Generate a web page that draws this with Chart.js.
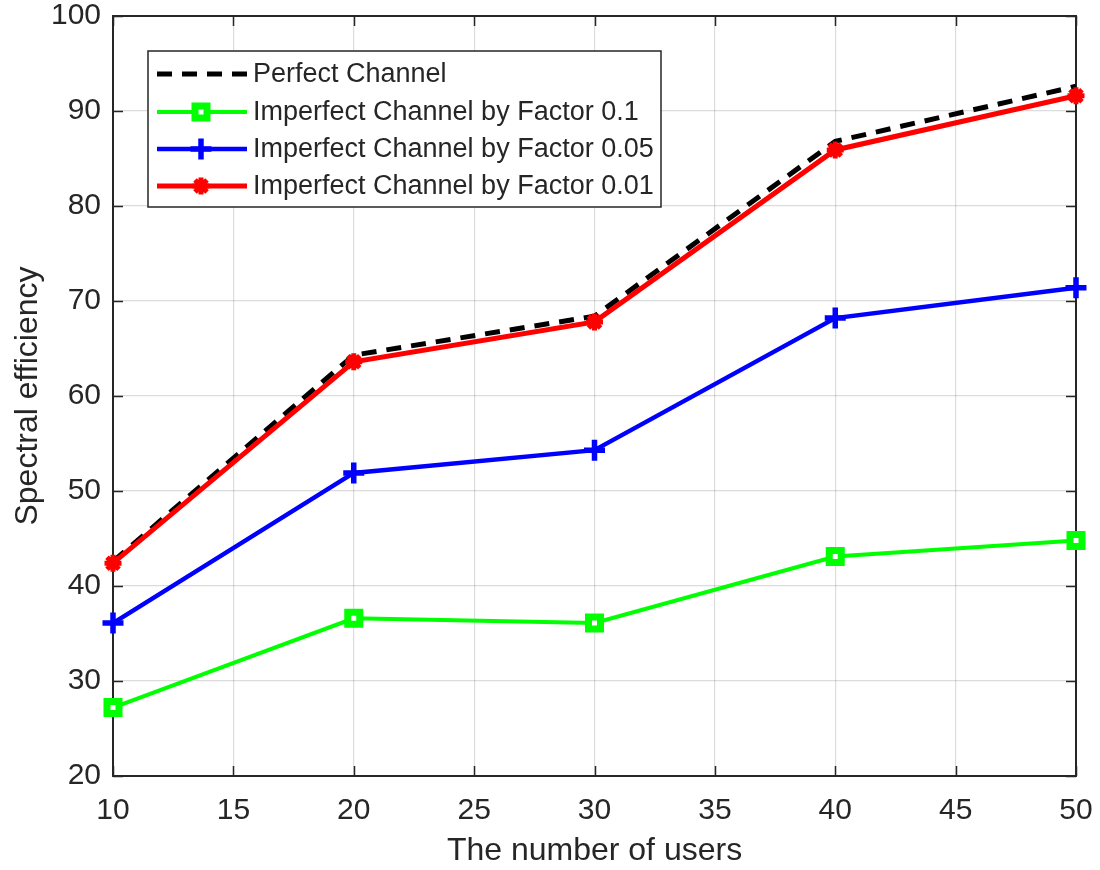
<!DOCTYPE html>
<html>
<head>
<meta charset="utf-8">
<script src="https://cdn.jsdelivr.net/npm/chart.js@4/dist/chart.umd.min.js"></script>
<style>
  html, body { margin: 0; padding: 0; background: #ffffff; }
  #wrap { width: 1100px; height: 870px; }
</style>
</head>
<body>
<div id="wrap"><canvas id="c" width="1100" height="870"></canvas></div>
<script>
// ---- data ----
const users = [10, 20, 30, 40, 50];
const perfectChannel = [42.6, 64.3, 68.4, 86.8, 92.6];
const factor01 = [27.2, 36.6, 36.1, 43.1, 44.8];
const factor005 = [36.1, 51.9, 54.3, 68.2, 71.4];
const factor001 = [42.4, 63.6, 67.8, 85.9, 91.6];
const seriesNames = [
  'Perfect Channel',
  'Imperfect Channel by Factor 0.1',
  'Imperfect Channel by Factor 0.05',
  'Imperfect Channel by Factor 0.01'
];
const xTicks = [10, 15, 20, 25, 30, 35, 40, 45, 50];
const yTicks = [20, 30, 40, 50, 60, 70, 80, 90, 100];
const xTitle = 'The number of users';
const yTitle = 'Spectral efficiency';

const FONT = "'Liberation Sans', Arial, Helvetica, sans-serif";
const TXT = '#262626';

function pts(arr) { return users.map((u, i) => ({ x: u, y: arr[i] })); }

const styles = [
  { color: '#000000', width: 5, dash: [15, 10], point: false, order: 3 },
  { color: '#00ff00', width: 4, point: 'rect', r: 8.5, bw: 7, bg: '#ffffff', order: 2 },
  { color: '#0000ff', width: 4.5, point: 'cross', r: 10.5, bw: 5.5, bg: '#0000ff', order: 1 },
  { color: '#ff0000', width: 5, point: 'star', r: 8.5, bw: 5, bg: '#ff0000', order: 0 }
];
const seriesData = [perfectChannel, factor01, factor005, factor001];

const datasets = seriesData.map((arr, i) => {
  const s = styles[i];
  return {
    label: seriesNames[i],
    data: pts(arr),
    borderColor: s.color,
    borderWidth: s.width,
    borderDash: s.dash || [],
    backgroundColor: s.bg || s.color,
    pointStyle: s.point || 'circle',
    pointRadius: s.point ? s.r : 0,
    pointHoverRadius: s.point ? s.r : 0,
    pointBorderWidth: s.bw || 0,
    pointBorderColor: s.color,
    pointBackgroundColor: s.bg || s.color,
    tension: 0,
    fill: false,
    clip: false,
    order: s.order
  };
});

// frame + inward ticks
const framePlugin = {
  id: 'frame',
  beforeDatasetsDraw(chart) {
    const { ctx, chartArea: a, scales: { x, y } } = chart;
    ctx.save();
    ctx.strokeStyle = TXT;
    ctx.lineWidth = 1.5;
    ctx.beginPath();
    const L = 10;
    xTicks.forEach(v => {
      const px = Math.round(x.getPixelForValue(v)) + 0.5;
      ctx.moveTo(px, a.bottom); ctx.lineTo(px, a.bottom - L);
      ctx.moveTo(px, a.top); ctx.lineTo(px, a.top + L);
    });
    yTicks.forEach(v => {
      const py = Math.round(y.getPixelForValue(v)) + 0.5;
      ctx.moveTo(a.left, py); ctx.lineTo(a.left + L, py);
      ctx.moveTo(a.right, py); ctx.lineTo(a.right - L, py);
    });
    ctx.stroke();
    ctx.lineWidth = 2;
    ctx.strokeRect(a.left, a.top, a.right - a.left, a.bottom - a.top);
    ctx.restore();
  }
};

function drawMarker(ctx, style, cx, cy) {
  ctx.save();
  ctx.strokeStyle = style.color;
  ctx.fillStyle = style.bg;
  ctx.lineWidth = style.bw;
  ctx.setLineDash([]);
  if (style.point === 'rect') {
    const h = style.r * Math.SQRT1_2;
    ctx.beginPath();
    ctx.rect(cx - h, cy - h, 2 * h, 2 * h);
    ctx.fill(); ctx.stroke();
  } else if (style.point === 'cross') {
    ctx.beginPath();
    ctx.moveTo(cx - style.r, cy); ctx.lineTo(cx + style.r, cy);
    ctx.moveTo(cx, cy - style.r); ctx.lineTo(cx, cy + style.r);
    ctx.stroke();
  } else if (style.point === 'star') {
    ctx.beginPath();
    const r = style.r;
    ctx.moveTo(cx - r, cy); ctx.lineTo(cx + r, cy);
    ctx.moveTo(cx, cy - r); ctx.lineTo(cx, cy + r);
    const d = r * Math.SQRT1_2;
    ctx.moveTo(cx - d, cy - d); ctx.lineTo(cx + d, cy + d);
    ctx.moveTo(cx - d, cy + d); ctx.lineTo(cx + d, cy - d);
    ctx.stroke();
  }
  ctx.restore();
}

const legendPlugin = {
  id: 'insideLegend',
  afterDraw(chart) {
    const { ctx } = chart;
    const box = { x: 148, y: 51, w: 513, h: 156 };
    ctx.save();
    ctx.fillStyle = '#ffffff';
    ctx.fillRect(box.x, box.y, box.w, box.h);
    ctx.strokeStyle = TXT;
    ctx.lineWidth = 1.5;
    ctx.strokeRect(box.x, box.y, box.w, box.h);
    const rows = [74, 112, 149, 186];
    ctx.font = '27px ' + FONT;
    ctx.textBaseline = 'middle';
    ctx.textAlign = 'left';
    rows.forEach((ry, i) => {
      const s = styles[i];
      ctx.save();
      ctx.strokeStyle = s.color;
      ctx.lineWidth = s.width;
      ctx.setLineDash(s.dash || []);
      ctx.beginPath();
      ctx.moveTo(157, ry); ctx.lineTo(247, ry);
      ctx.stroke();
      ctx.restore();
      if (s.point) drawMarker(ctx, s, 201, ry);
      ctx.fillStyle = TXT;
      ctx.fillText(seriesNames[i], 253, ry + 1);
    });
    ctx.restore();
  }
};

function noPad(s) { s.paddingTop = 0; s.paddingBottom = 0; s.paddingLeft = 0; s.paddingRight = 0; }

new Chart(document.getElementById('c'), {
  type: 'line',
  data: { datasets },
  plugins: [framePlugin, legendPlugin],
  options: {
    responsive: false,
    animation: false,
    events: [],
    layout: { padding: { top: 16, right: 24, left: 0, bottom: 0 } },
    plugins: { legend: { display: false }, tooltip: { enabled: false } },
    scales: {
      x: {
        type: 'linear',
        min: 10, max: 50,
        afterFit(s) { s.height = 94; noPad(s); },
        afterBuildTicks(s) { s.ticks = xTicks.map(v => ({ value: v })); },
        ticks: { color: TXT, font: { family: FONT, size: 30 }, padding: 17, maxRotation: 0, autoSkip: false },
        grid: { color: 'rgba(38,38,38,0.16)', lineWidth: 1.2, drawTicks: false },
        border: { display: false },
        title: { display: true, text: xTitle, color: TXT, font: { family: FONT, size: 32 }, padding: { top: 0, bottom: 0 } }
      },
      y: {
        type: 'linear',
        min: 20, max: 100,
        afterFit(s) { s.width = 113; noPad(s); },
        afterBuildTicks(s) { s.ticks = yTicks.map(v => ({ value: v })); },
        ticks: { color: TXT, font: { family: FONT, size: 30 }, padding: 12, autoSkip: false },
        grid: { color: 'rgba(38,38,38,0.16)', lineWidth: 1.2, drawTicks: false },
        border: { display: false },
        title: { display: true, text: yTitle, color: TXT, font: { family: FONT, size: 32 }, padding: { top: 9, bottom: 0 } }
      }
    }
  }
});
</script>
</body>
</html>
